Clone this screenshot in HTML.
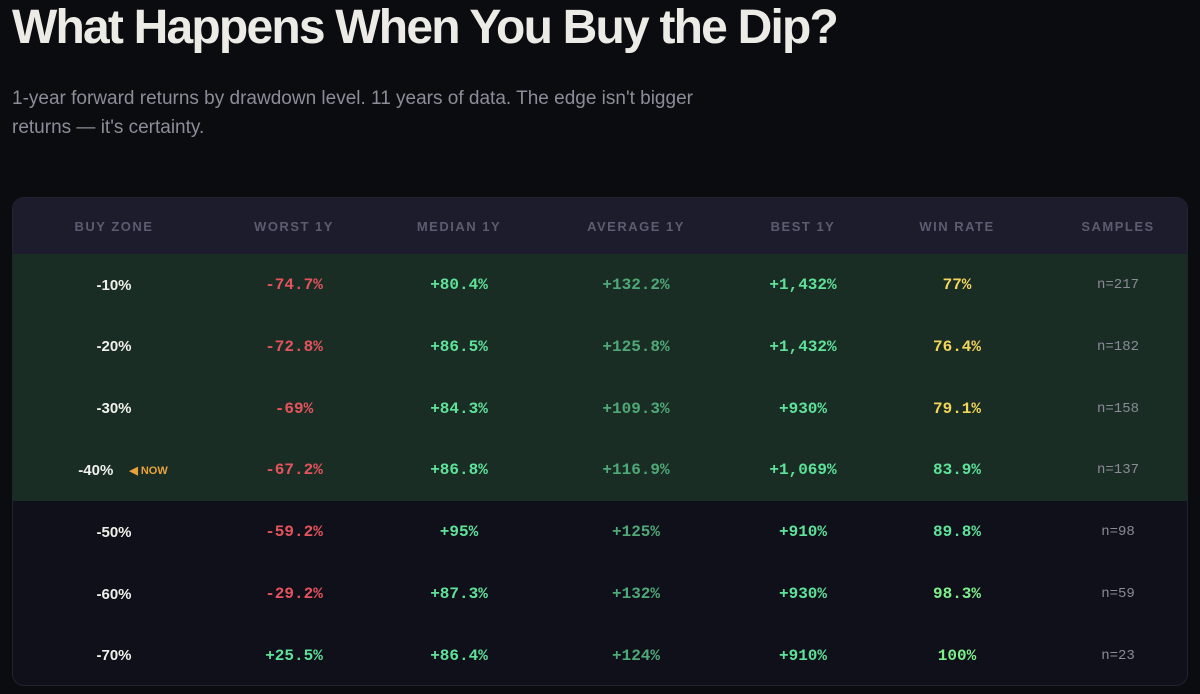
<!DOCTYPE html>
<html><head><meta charset="utf-8">
<style>
body{margin:0;width:1200px;height:694px;background:#0b0c10;font-family:"Liberation Sans",sans-serif;overflow:hidden;position:relative}
h1{position:absolute;left:12px;top:0px;margin:0;font-size:48px;font-weight:bold;color:#ecebe6;letter-spacing:-1.8px}
.sub{position:absolute;left:12px;top:84px;width:700px;font-size:19px;line-height:29px;color:#8d8c98}
.tbl{position:absolute;left:12px;top:197px;width:1176px;height:489px;border-radius:12px;overflow:hidden;border:1px solid #23232f;box-sizing:border-box;background:#10101a}
.row{position:absolute;left:0;width:100%;height:62px}
.hdr{top:0;height:56px;background:#1c1c2c}
.cell{position:absolute;top:0;height:100%;transform:translateX(-50%);display:flex;align-items:center;white-space:nowrap}
.h{font-size:13px;letter-spacing:1.5px;color:#5c5c70;font-weight:bold}
.zone{font-size:15px;font-weight:bold;color:#f0f0ea}
.mono{font-family:"Liberation Mono",monospace;font-size:16px;font-weight:bold}
.now{color:#e9a23b;font-size:11px;font-weight:bold;margin-left:16px}
</style></head><body>
<h1>What Happens When You Buy the Dip?</h1>
<div class="sub">1-year forward returns by drawdown level. 11 years of data. The edge isn't bigger returns — it's certainty.</div>
<div class="tbl" id="tbl"></div>
<script>
const headers=["BUY ZONE","WORST 1Y","MEDIAN 1Y","AVERAGE 1Y","BEST 1Y","WIN RATE","SAMPLES"];
const zones=["-10%","-20%","-30%","-40%","-50%","-60%","-70%"];
const worst=["-74.7%","-72.8%","-69%","-67.2%","-59.2%","-29.2%","+25.5%"];
const median=["+80.4%","+86.5%","+84.3%","+86.8%","+95%","+87.3%","+86.4%"];
const average=["+132.2%","+125.8%","+109.3%","+116.9%","+125%","+132%","+124%"];
const best=["+1,432%","+1,432%","+930%","+1,069%","+910%","+930%","+910%"];
const winRate=["77%","76.4%","79.1%","83.9%","89.8%","98.3%","100%"];
const samples=["n=217","n=182","n=158","n=137","n=98","n=59","n=23"];
const cx=[101,281,446,623,790,944,1105];
const t=document.getElementById('tbl');
function mk(cls,parent){const d=document.createElement('div');d.className=cls;parent.appendChild(d);return d;}
const hr=mk('row hdr',t);


headers.forEach((h,i)=>{const c=mk('cell h',hr);c.style.left=cx[i]+'px';c.textContent=h;

});
zones.forEach((z,r)=>{
 const row=mk('row',t);
 
 
 row.style.top=(56+r*61.8)+'px';
 row.style.background=r<4?'#1a2d25':'#10101a';
 const vals=[z,worst[r],median[r],average[r],best[r],winRate[r],samples[r]];
 vals.forEach((v,i)=>{
  const c=mk('cell',row);c.style.left=cx[i]+'px';
  
  
  if(i==0){c.className='cell zone';c.textContent=v;
   if(r==3){c.style.left='110px';const n=document.createElement('span');n.className='now';n.textContent='◀ NOW';
    
    
    c.appendChild(n);}}
  else{c.className='cell mono';c.textContent=v;let col;
   if(i==1)col=v[0]=='-'?'#e5535d':'#5ee29a';
   else if(i==2||i==4)col='#5ee29a';
   else if(i==3)col='#4fa877';
   else if(i==5){const n=parseFloat(v);col=n<80?'#f2d55a':(n>95?'#7ef08a':'#5ee29a');}
   else {col='#8a8a98';c.style.fontWeight='normal';c.style.fontSize='14px';}
   c.style.color=col;}
 });
});
</script>
</body></html>
